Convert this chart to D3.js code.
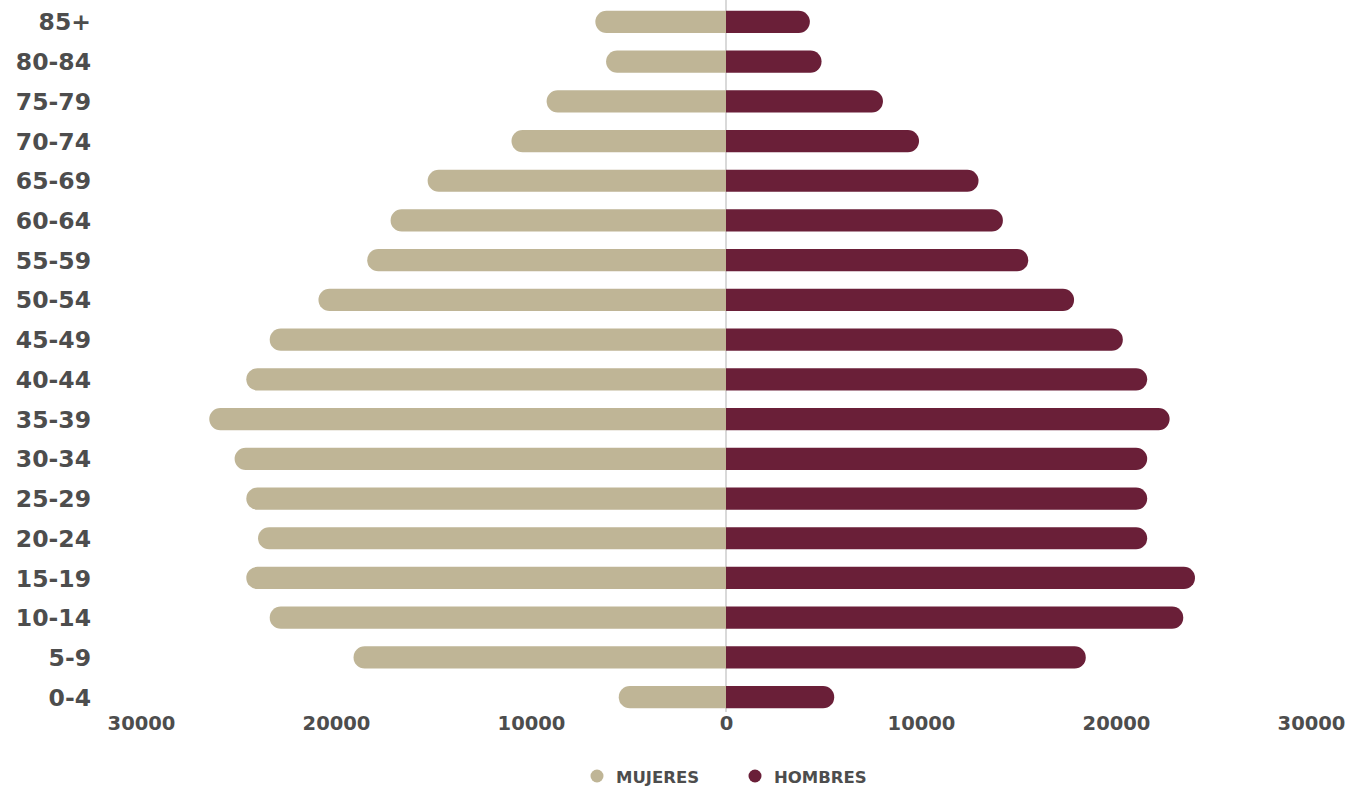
<!DOCTYPE html>
<html><head><meta charset="utf-8">
<script src="https://cdn.jsdelivr.net/npm/d3@7"></script>
<style>body{margin:0;background:#fff;}svg{display:block;font-family:"DejaVu Sans",sans-serif;}</style>
</head><body><svg id="c" width="1367" height="787"></svg>
<script>
const ageGroups = ["85+","80-84","75-79","70-74","65-69","60-64","55-59","50-54","45-49","40-44","35-39","30-34","25-29","20-24","15-19","10-14","5-9","0-4"];
const mujeres = [6700,6150,9200,11000,15300,17200,18400,20900,23400,24600,26500,25200,24600,24000,24600,23400,19100,5500];
const hombres = [4300,4900,8050,9900,12950,14200,15500,17850,20350,21600,22750,21600,21600,21600,24050,23450,18450,5550];
const tickValues = [-30000,-20000,-10000,0,10000,20000,30000];
const seriesNames = ["MUJERES","HOMBRES"];
const colors = ["#bfb596","#6a1f38"];

const svg = d3.select("#c");
const x = d3.scaleLinear().domain([-30000,30000]).range([141,1311]);
const y = d3.scaleBand().domain(ageGroups).range([2,717]).paddingInner(0.44).paddingOuter(0.22);
const bh = y.bandwidth();

// center line
svg.append("line").attr("x1",x(0)).attr("x2",x(0)).attr("y1",0).attr("y2",712)
  .attr("stroke","#d9d9d9").attr("stroke-width",2);

function barPath(x0,x1,yt,h){
  const r=h/2;
  if(x1>x0){
    const xe=Math.max(x0,x1-r);
    return `M${x0},${yt}H${xe}A${r},${r} 0 0 1 ${xe},${yt+h}H${x0}Z`;
  } else {
    const xe=Math.min(x0,x1+r);
    return `M${x0},${yt}H${xe}A${r},${r} 0 0 0 ${xe},${yt+h}H${x0}Z`;
  }
}
const g = svg.append("g");
g.selectAll("path.m").data(ageGroups).join("path").attr("class","m")
  .attr("d",(d,i)=>barPath(x(0),x(-mujeres[i]),y(d),bh)).attr("fill",colors[0]);
g.selectAll("path.h").data(ageGroups).join("path").attr("class","h")
  .attr("d",(d,i)=>barPath(x(0),x(hombres[i]),y(d),bh)).attr("fill",colors[1]);

// y axis labels
const ya = svg.append("g").attr("transform","translate(91,1)")
  .call(d3.axisLeft(y).tickSize(0).tickPadding(0));
ya.select(".domain").remove();
ya.selectAll("text").attr("font-size",23.5).attr("font-weight",700).attr("fill","#4d4d4d")
  .attr("font-family","'DejaVu Sans',sans-serif");

// x axis
const xa = svg.append("g").attr("transform","translate(0,716)")
  .call(d3.axisBottom(x).tickValues(tickValues).tickSize(0).tickPadding(0).tickFormat(d=>Math.abs(d)));
xa.select(".domain").remove();
xa.selectAll("text").attr("font-size",19.5).attr("font-weight",700).attr("fill","#4d4d4d")
  .attr("font-family","'DejaVu Sans',sans-serif");

// legend
const legX=[597,755];
const lg = svg.append("g");
seriesNames.forEach((n,i)=>{
  lg.append("circle").attr("cx",legX[i]).attr("cy",776).attr("r",6.5).attr("fill",colors[i]);
  lg.append("text").attr("x",legX[i]+19).attr("y",777).attr("dy","0.36em")
    .attr("font-size",16.5).attr("font-weight",700).attr("fill","#4d4d4d").text(n);
});
</script></body></html>
